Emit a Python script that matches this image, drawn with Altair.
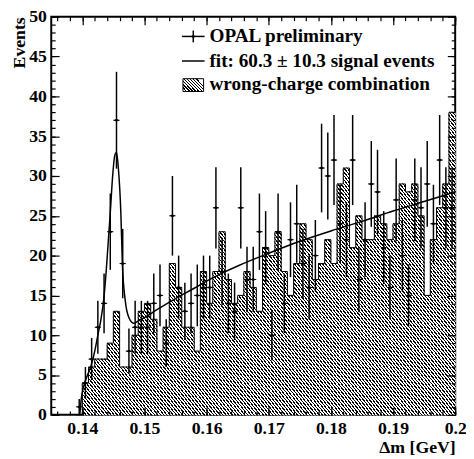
import altair as alt
import pandas as pd

# ---------------------------------------------------------
# DATA
# ---------------------------------------------------------
# centres of the 1 MeV delta-m bins, GeV
bin_centers = [
    0.1395, 0.1405, 0.1415, 0.1425, 0.1435, 0.1445, 0.1455, 0.1465, 0.1475, 0.1485,
    0.1495, 0.1505, 0.1515, 0.1525, 0.1535, 0.1545, 0.1555, 0.1565, 0.1575, 0.1585,
    0.1595, 0.1605, 0.1615, 0.1625, 0.1635, 0.1645, 0.1655, 0.1665, 0.1675, 0.1685,
    0.1695, 0.1705, 0.1715, 0.1725, 0.1735, 0.1745, 0.1755, 0.1765, 0.1775, 0.1785,
    0.1795, 0.1805, 0.1815, 0.1825, 0.1835, 0.1845, 0.1855, 0.1865, 0.1875, 0.1885,
    0.1895, 0.1905, 0.1915, 0.1925, 0.1935, 0.1945, 0.1955, 0.1965, 0.1975, 0.1985,
    0.1995,
]

# OPAL preliminary, events per bin
data_counts = [
    1, 4, 7, 11, 14, 23, 37, 19, 8, 11,
    11, 11, 14, 15, 9, 25, 16, 13, 14, 15,
    16, 16, 26, 18, 14, 13, 26, 17, 17, 23,
    21, 10, 23, 14, 22, 24, 19, 16, 20, 31,
    30, 32, 24, 22, 32, 17, 22, 29, 28, 21,
    16, 27, 20, 15, 27, 26, 29, 24, 32, 26,
    26,
]

# wrong-charge combination, events per bin
wrong_charge = [
    0, 4, 6, 7, 7, 9, 13, 6, 6, 10,
    13, 14, 12, 8, 11, 19, 16, 11, 11, 8,
    18, 14, 18, 23, 17, 14, 15, 18, 16, 13,
    21, 20, 23, 18, 15, 19, 24, 22, 17, 19,
    22, 19, 29, 31, 21, 25, 22, 22, 25, 24,
    22, 24, 29, 28, 29, 25, 15, 22, 26, 29,
    38,
]

# fitted curve, sampled along the drawn line
fit_x = [
    0.1396, 0.1398, 0.1400, 0.1405, 0.1410, 0.1415, 0.1420, 0.1425, 0.1430, 0.1434,
    0.1438, 0.1441, 0.1445, 0.1449, 0.1452, 0.1455, 0.1458, 0.1462, 0.14645, 0.1469,
    0.1475, 0.1483, 0.1490, 0.1500, 0.1520, 0.1550, 0.1580, 0.1600, 0.1625, 0.1650,
    0.1700, 0.1750, 0.1800, 0.1850, 0.1900, 0.1950, 0.2000,
]
fit_y = [
    0.0, 1.8, 2.8, 4.3, 5.3, 6.4, 8.0, 10.0, 12.0, 14.2,
    17.6, 20.9, 25.4, 30.2, 32.5, 33.0, 31.0, 25.4, 18.9, 14.4,
    12.2, 11.5, 11.8, 12.2, 13.2, 14.6, 15.9, 16.8, 17.8, 18.7,
    20.3, 21.8, 23.1, 24.3, 25.6, 26.8, 28.0,
]

x_major = [0.14, 0.15, 0.16, 0.17, 0.18, 0.19, 0.2]
y_major = [0, 5, 10, 15, 20, 25, 30, 35, 40, 45, 50]

legend_labels = [
    "OPAL preliminary",
    "fit: 60.3 \u00b1 10.3 signal events",
    "wrong-charge combination",
]

# ---------------------------------------------------------
# LAYOUT / STYLE
# ---------------------------------------------------------
W, H = 411, 405
LEFT, TOP = 52, 13          # page position of the plot corner
X_DOM = [0.135, 0.2]
Y_DOM = [0, 50]
BIN = 0.001
FONT = "Liberation Serif"
DIAMOND = "M-1,0L0,-0.55L1,0L0,0.55Z"

x_minor = [round(0.136 + 0.002 * i, 3) for i in range(33)]
y_minor = list(range(0, 51))


def hatch(n_stripes, ratio=1.0, dark=0.42):
    """Diagonal hatch as a hard-stop linear gradient (bbox units)."""
    stops = []
    for i in range(n_stripes):
        a = round(i / n_stripes, 6)
        b = round((i + dark) / n_stripes, 6)
        stops += [
            {"offset": a, "color": "white"},
            {"offset": a, "color": "black"},
            {"offset": b, "color": "black"},
            {"offset": b, "color": "white"},
        ]
    return {"gradient": "linear", "x1": 0, "y1": 1, "x2": 1, "y2": round(1 - ratio, 4),
            "stops": stops}


def axis(orient, size, values, labels=False, **extra):
    kw = dict(
        orient=orient, offset=-size, tickSize=size, values=values,
        domain=False, grid=False, ticks=True, tickColor="black", tickWidth=1.2,
        labels=labels, zindex=1,
    )
    if labels:
        kw.update(labelFont=FONT, labelFontSize=18, labelFontWeight="bold",
                  labelColor="black", labelPadding=5, labelFlush=False,
                  labelOverlap=False, labelBound=False)
    if "title" not in extra:
        extra["title"] = None
    kw.update(extra)
    return alt.Axis(**kw)


xs = alt.Scale(domain=X_DOM, nice=False, zero=False)
ys = alt.Scale(domain=Y_DOM, nice=False, zero=False)

df = pd.DataFrame({"dm": bin_centers, "n": data_counts})
outline = pd.DataFrame({
    "edge": [c - BIN / 2 for c in bin_centers] + [bin_centers[-1] + BIN / 2],
    "wc": wrong_charge + [wrong_charge[-1]],
})
# the hatched histogram is built from one cell per entry, so that every
# cell has the same box and the gradient stripes join up across cells
cells = pd.DataFrame(
    [(c - BIN / 2, c + BIN / 2, k, k + 1)
     for c, v in zip(bin_centers, wrong_charge) for k in range(v)],
    columns=["x0", "x1", "y0", "y1"],
)
fit = pd.DataFrame({"dm": fit_x, "f": fit_y})

# ---------------------------------------------------------
# LAYERS
# ---------------------------------------------------------
HATCH = hatch(4)
# stroking with the same gradient hides the seams between cells
cell_layer = alt.Chart(cells).mark_rect(fill=HATCH, stroke=HATCH, strokeWidth=1).encode(
    x=alt.X("x0:Q", scale=xs, axis=None),
    x2="x1:Q",
    y=alt.Y("y0:Q", scale=ys, axis=None),
    y2="y1:Q",
)

outline_layer = alt.Chart(outline).mark_line(
    interpolate="step-after", color="black", strokeWidth=1
).encode(
    x=alt.X("edge:Q", scale=xs, axis=axis(
        "bottom", 8, x_major, labels=True, format="~g",
        title="\u0394m [GeV]", titleFont=FONT, titleFontSize=18, titleFontWeight="bold",
        titleColor="black", titleAnchor="end", titleBaseline="top", titleY=32)),
    y=alt.Y("wc:Q", scale=ys, axis=axis(
        "left", 8, y_major, labels=True, format="d",
        title="Events", titleFont=FONT, titleFontSize=18, titleFontWeight="bold",
        titleColor="black", titleAnchor="end", titleBaseline="alphabetic", titleX=-35)),
)

fit_layer = alt.Chart(fit).mark_line(
    interpolate="monotone", color="black", strokeWidth=1.5
).encode(
    x=alt.X("dm:Q", scale=xs, axis=axis("bottom", 4, x_minor)),
    y=alt.Y("f:Q", scale=ys, axis=axis("left", 4, y_minor)),
)

err_layer = alt.Chart(df).transform_calculate(
    lo="datum.n - sqrt(datum.n)", hi="datum.n + sqrt(datum.n)"
).mark_rule(color="black", strokeWidth=1.5).encode(
    x=alt.X("dm:Q", scale=xs, axis=axis("top", 8, x_major)),
    y=alt.Y("lo:Q", scale=ys, axis=axis("right", 8, y_major)),
    y2="hi:Q",
)

xerr_layer = alt.Chart(df).transform_calculate(
    a="datum.dm - 0.0005", b="datum.dm + 0.0005"
).mark_rule(color="black", strokeWidth=1).encode(
    x=alt.X("a:Q", scale=xs, axis=axis("top", 4, x_minor)),
    x2="b:Q",
    y=alt.Y("n:Q", scale=ys, axis=axis("right", 4, y_minor)),
)

pts_layer = alt.Chart(df).mark_point(
    shape=DIAMOND, size=30, filled=True, color="black", opacity=1
).encode(
    x=alt.X("dm:Q", scale=xs, axis=None),
    y=alt.Y("n:Q", scale=ys, axis=None),
)

# ---------------------------------------------------------
# LEGEND (top right, drawn by hand)
# ---------------------------------------------------------
one = pd.DataFrame({"k": [0]})
leg_y = [33, 58, 82]
sx0, sx1, tx = 185, 208, 213

legend = []
for label, yy in zip(legend_labels, leg_y):
    legend.append(
        alt.Chart(one).mark_text(
            text=label, align="left", baseline="middle", font=FONT,
            fontSize=19.5, fontWeight="bold", color="black"
        ).encode(x=alt.value(tx - LEFT), y=alt.value(yy - TOP))
    )

legend += [
    alt.Chart(one).mark_rule(color="black", strokeWidth=1.5).encode(
        x=alt.value(sx0 - LEFT), x2=alt.value(sx1 - LEFT), y=alt.value(leg_y[0] - TOP)),
    alt.Chart(one).mark_rule(color="black", strokeWidth=1.5).encode(
        x=alt.value((sx0 + sx1) / 2 - LEFT), y=alt.value(leg_y[0] - 6 - TOP),
        y2=alt.value(leg_y[0] + 6 - TOP)),
    alt.Chart(one).mark_point(shape=DIAMOND, size=30, filled=True, color="black",
                              opacity=1).encode(
        x=alt.value((sx0 + sx1) / 2 - LEFT), y=alt.value(leg_y[0] - TOP)),
    alt.Chart(one).mark_rule(color="black", strokeWidth=1.5).encode(
        x=alt.value(sx0 - LEFT), x2=alt.value(sx1 - LEFT), y=alt.value(leg_y[1] - TOP)),
    alt.Chart(one).mark_rect(fill=hatch(9, 13 / 22), stroke="black", strokeWidth=1).encode(
        x=alt.value(sx0 + 1 - LEFT), x2=alt.value(sx1 - 1 - LEFT),
        y=alt.value(leg_y[2] - 6 - TOP), y2=alt.value(leg_y[2] + 7 - TOP)),
]

chart = alt.layer(
    cell_layer, outline_layer, fit_layer, err_layer, xerr_layer, pts_layer, *legend
).resolve_axis(
    x="independent", y="independent"
).properties(
    width=W, height=H, autosize="none",
    padding={"left": LEFT - 8, "top": TOP - 8, "right": 11, "bottom": 40},
    background="white",
).configure_view(
    stroke="black", strokeWidth=2
)

chart.save("out.html", embed_options={"renderer": "svg", "actions": False})
